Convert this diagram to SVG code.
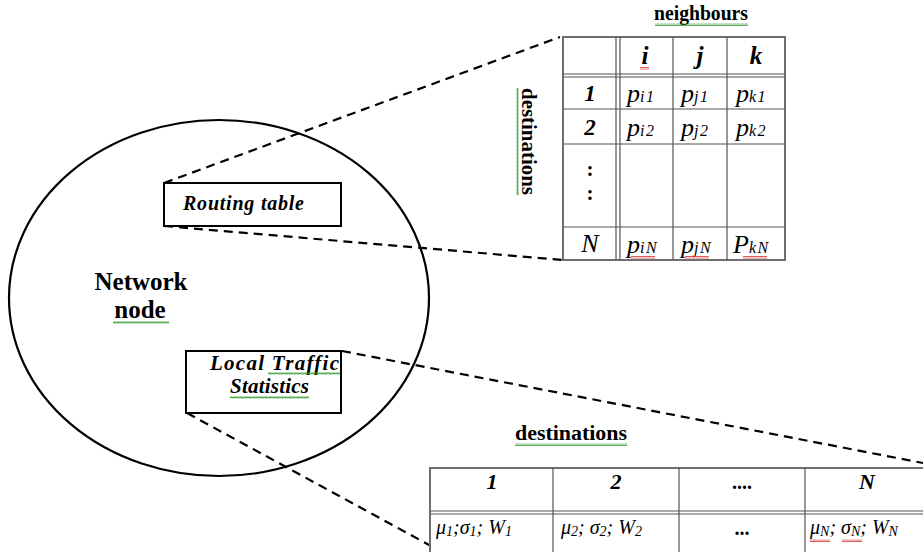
<svg xmlns="http://www.w3.org/2000/svg" width="923" height="552" viewBox="0 0 923 552">
<defs>
<style>
.sr{font-family:"Liberation Serif","Times New Roman",serif;fill:#000}
.bi{font-weight:bold;font-style:italic}
.b{font-weight:bold}
.it{font-style:italic}
.box{fill:#fff;stroke:#000;stroke-width:2}
.dash{fill:none;stroke:#000;stroke-width:2.2;stroke-dasharray:9 6}
.outer{fill:#fff;stroke:#6e6e6e;stroke-width:2}
.grid{stroke:#555;stroke-width:1.2;fill:none}
.wg{fill:url(#pg)}
.wr{fill:url(#pr)}
.sub{font-size:16px;letter-spacing:1.5px}
.s2{font-size:14px}
</style>
<pattern id="pg" width="4" height="3" patternUnits="userSpaceOnUse"><path d="M0 2.5 L1 0.5 L2 2.5 L3 0.5 L4 2.5" fill="none" stroke="#2e9a2e" stroke-width="0.8"/></pattern>
<pattern id="pr" width="4" height="3" patternUnits="userSpaceOnUse"><path d="M0 2.5 L1 0.5 L2 2.5 L3 0.5 L4 2.5" fill="none" stroke="#d83030" stroke-width="0.8"/></pattern>
<pattern id="pgv" width="3" height="4" patternUnits="userSpaceOnUse"><path d="M0.5 0 L2.5 1 L0.5 2 L2.5 3 L0.5 4" fill="none" stroke="#2e9a2e" stroke-width="0.8"/></pattern>
</defs>
<rect width="923" height="552" fill="#fff"/>

<g id="network-node">
<ellipse cx="219" cy="298" rx="210" ry="178" fill="none" stroke="#000" stroke-width="2.2"/>
<text class="sr b" x="141" y="290" font-size="25" text-anchor="middle">Network</text>
<text class="sr b" x="140" y="318" font-size="25" text-anchor="middle">node</text>
<rect class="wg" x="113" y="321" width="56" height="3"/>
</g>

<g id="connectors">
<line class="dash" x1="164" y1="183" x2="560" y2="37"/>
<line class="dash" x1="164" y1="226" x2="563" y2="260"/>
<line class="dash" x1="342" y1="351" x2="923" y2="463"/>
<line class="dash" x1="187" y1="413" x2="431" y2="546"/>
</g>

<g id="routing-table-box">
<rect class="box" x="164" y="183" width="177" height="43"/>
<text class="sr bi" x="183" y="210" font-size="20" textLength="121" lengthAdjust="spacing">Routing table</text>
</g>

<g id="local-traffic-box">
<rect class="box" x="186" y="351" width="155" height="62"/>
<text class="sr bi" x="210" y="370" font-size="21" textLength="129" lengthAdjust="spacing">Local Traffic</text>
<text class="sr bi" x="230" y="393" font-size="21" textLength="79" lengthAdjust="spacing">Statistics</text>
<rect class="wg" x="268" y="372" width="72" height="3"/>
<rect class="wg" x="230" y="396" width="79" height="3"/>
</g>

<g id="routing-table">
<text class="sr b" x="701" y="20" font-size="20" text-anchor="middle" textLength="94" lengthAdjust="spacingAndGlyphs">neighbours</text>
<rect class="wg" x="655" y="23" width="93" height="3"/>
<text class="sr b" font-size="21" transform="translate(522,88) rotate(90)" textLength="107" lengthAdjust="spacingAndGlyphs">destinations</text>
<rect x="516" y="88" width="3" height="107" fill="url(#pgv)"/>
<rect class="outer" x="563" y="37" width="222" height="223"/>
<path class="grid" d="M616 37V260M620 37V260M673 37V260M727 37V260M563 74H785M563 77H785M563 109H785M563 144H785M563 227H785"/>
<text class="sr bi" font-size="25" text-anchor="middle"><tspan x="645" y="64">i</tspan><tspan x="700" y="64">j</tspan><tspan x="756" y="64">k</tspan></text>
<rect class="wr" x="640" y="67" width="9" height="3"/>
<text class="sr bi" font-size="23" text-anchor="middle"><tspan x="590" y="101">1</tspan><tspan x="590" y="135">2</tspan></text>
<text class="sr b" font-size="21" text-anchor="middle"><tspan x="590" y="176">:</tspan><tspan x="590" y="200">:</tspan></text>
<text class="sr it" x="590" y="252" font-size="26" text-anchor="middle">N</text>
<g class="sr it" font-size="26">
<text x="627" y="102">p<tspan class="sub">i1</tspan></text>
<text x="681" y="102">p<tspan class="sub">j1</tspan></text>
<text x="736" y="102">p<tspan class="sub">k1</tspan></text>
<text x="627" y="136">p<tspan class="sub">i2</tspan></text>
<text x="681" y="136">p<tspan class="sub">j2</tspan></text>
<text x="736" y="136">p<tspan class="sub">k2</tspan></text>
<text x="627" y="253">p<tspan class="sub">iN</tspan></text>
<text x="681" y="253">p<tspan class="sub">jN</tspan></text>
<text x="733" y="253">P<tspan class="sub">kN</tspan></text>
</g>
<rect class="wr" x="631" y="256" width="24" height="3"/>
<rect class="wr" x="685" y="256" width="24" height="3"/>
<rect class="wr" x="743" y="256" width="24" height="3"/>
</g>

<g id="traffic-table">
<text class="sr b" x="571" y="440" font-size="20" text-anchor="middle" textLength="112" lengthAdjust="spacingAndGlyphs">destinations</text>
<rect class="wg" x="515" y="443" width="112" height="3"/>
<rect class="outer" x="430" y="468" width="510" height="100"/>
<path class="grid" d="M553 468V552M679 468V552M805 468V552M430 511H923M430 514H923"/>
<text class="sr bi" font-size="22" text-anchor="middle"><tspan x="492" y="489">1</tspan><tspan x="616" y="489">2</tspan><tspan x="867" y="489">N</tspan></text>
<text class="sr b" x="742" y="489" font-size="20" text-anchor="middle">....</text>
<text class="sr b" x="742" y="535" font-size="20" text-anchor="middle">...</text>
<g class="sr it" font-size="20">
<text x="436" y="534">μ<tspan class="s2" dy="2">1</tspan><tspan dy="-2">;σ</tspan><tspan class="s2" dy="2">1</tspan><tspan dy="-2">; W</tspan><tspan class="s2" dy="2">1</tspan></text>
<text x="561" y="534">μ<tspan class="s2" dy="2">2</tspan><tspan dy="-2">; σ</tspan><tspan class="s2" dy="2">2</tspan><tspan dy="-2">; W</tspan><tspan class="s2" dy="2">2</tspan></text>
<text x="810" y="534">μ<tspan class="s2" dy="2">N</tspan><tspan dy="-2">; σ</tspan><tspan class="s2" dy="2">N</tspan><tspan dy="-2">; W</tspan><tspan class="s2" dy="2">N</tspan></text>
</g>
<rect class="wr" x="810" y="539" width="20" height="3"/>
<rect class="wr" x="842" y="539" width="20" height="3"/>
</g>
</svg>
